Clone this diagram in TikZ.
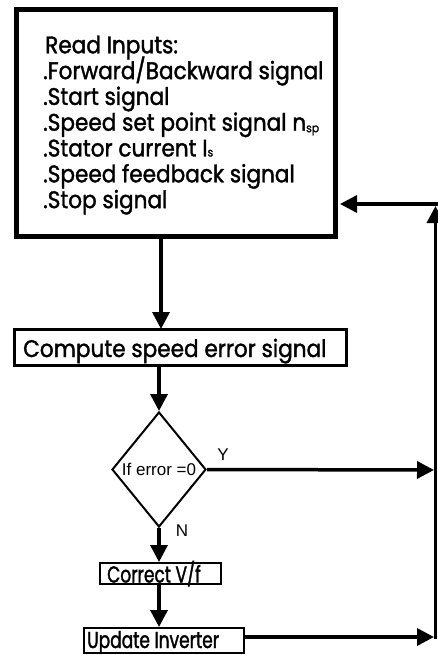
\documentclass[tikz,border=0pt]{standalone}
\usepackage{fontspec}
\setmainfont{Poppins}[FakeStretch=0.9,FakeBold=1.5]
\newfontfamily\narrowfont{Poppins}[FakeStretch=0.74,FakeBold=1.5]
\newfontfamily\thinfont{Liberation Sans}
\usetikzlibrary{arrows.meta,shapes.geometric}

\begin{document}
\begin{tikzpicture}[x=1pt,y=-1pt,
  flow/.style={line width=3.5pt,-{Triangle[length=17pt,width=17pt]}},
  procbox/.style={draw,line width=2pt,inner sep=0pt,fill=white},
  bodytext/.style={font=\fontsize{24}{24}\selectfont,inner sep=0pt,anchor=base west},
  smalltext/.style={font=\narrowfont\fontsize{23}{23}\selectfont,inner sep=0pt,anchor=base west},
  thintext/.style={font=\thinfont\fontsize{17}{17}\selectfont,inner sep=0pt}]
\useasboundingbox (0,0) rectangle (438,655);

% input block
\node[draw,line width=5pt,minimum width=319pt,minimum height=226pt,inner sep=0pt] (inputs) at (176,123) {};
\node[bodytext] (l1) at (45,53.3) {Read Inputs:};
\node[bodytext] (l2) at (43,79.1) {.Forward/Backward signal};
\node[bodytext] (l3) at (43,104.9) {.Start signal};
\node[bodytext] (l4) at (43,130.7) {.Speed set point signal n{\fontsize{12}{12}\selectfont\raisebox{-1.5pt}{sp}}};
\node[bodytext] (l5) at (43,156.5) {.Stator current I{\fontsize{12}{12}\selectfont s}};
\node[bodytext] (l6) at (43,182.3) {.Speed feedback signal};
\node[bodytext] (l7) at (43,208.1) {.Stop signal};

% processing steps
\node[procbox,line width=2.7pt,minimum width=332.4pt,minimum height=36.4pt] (err) at (180.5,347.5) {};
\node[bodytext] (errtxt) at (23,357) {Compute speed error signal};
\node[draw,diamond,line width=2pt,inner sep=0pt,minimum width=94pt,minimum height=115pt,
      thintext] (dec) at (159,469.5) {If error =0};
\node[procbox,minimum width=121pt,minimum height=21pt] (vf) at (160.5,573.5) {};
\node[smalltext] (vftxt) at (107,582.5) {Correct V/f};
\node[procbox,minimum width=160pt,minimum height=25pt] (inv) at (164,640.5) {};
\node[smalltext] (invtxt) at (87,648) {Update Inverter};

\node[thintext] (ylab) at (223,455) {Y};
\node[thintext] (nlab) at (182,531) {N};

% return path
\coordinate (ry) at (434,470);
\coordinate (rb) at (435.5,638.5);
\coordinate (rt) at (435.5,206);
\coordinate (rc) at (438,204);

\draw[flow] (161,238) -- (161,329);
\draw[flow] (err.south -| dec.north) -- (dec.north);
\draw[flow] (dec.south) -- (dec.south |- vf.north);
\draw[flow] (dec.south |- vf.south) -- (dec.south |- inv.north);
\draw[flow] (dec.east) -- (ry);
\draw[flow] (inv.east |- 0,637) -- (434,637);
\draw[flow] (rb) -- (rt);
\draw[flow] (rc) -- (340,204);
\end{tikzpicture}
\end{document}
